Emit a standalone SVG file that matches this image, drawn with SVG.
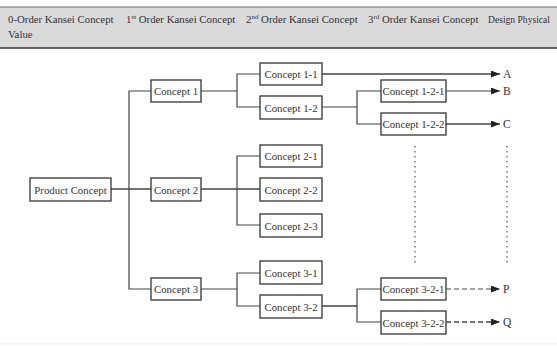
<svg xmlns="http://www.w3.org/2000/svg" width="557" height="347" viewBox="0 0 557 347">
<style>
.hdr{font-family:"Liberation Serif","DejaVu Serif",serif;font-size:10.8px;fill:#333}
.sup{font-size:7px}
.box{fill:#fff;stroke:#333;stroke-width:1.3}
.lbl{font-family:"Liberation Serif","DejaVu Serif",serif;font-size:10.8px;fill:#333;text-anchor:middle}
.end{font-family:"Liberation Serif","DejaVu Serif",serif;font-size:11.5px;fill:#333}
.ln{fill:none;stroke:#444;stroke-width:1.2}
.thk{stroke-width:1.7}
.dash{stroke-dasharray:5 3}
.dot{fill:none;stroke:#555;stroke-width:1.2;stroke-dasharray:1.5 3.5}
</style>
<defs>
<marker id="ah" markerUnits="userSpaceOnUse" markerWidth="9" markerHeight="7" refX="9" refY="3.5" orient="auto">
<path d="M0,0 L9,3.5 L0,7 z" fill="#222"/>
</marker>
</defs>
<rect x="0" y="0" width="557" height="347" fill="#fff"/>
<g id="header">
<rect x="0" y="7" width="557" height="41" fill="#dadada"/>
<line x1="0" y1="7" x2="557" y2="7" stroke="#666" stroke-width="1"/>
<line x1="0" y1="48" x2="557" y2="48" stroke="#333" stroke-width="1.5"/>
<text class="hdr" x="8" y="23">0-Order Kansei Concept</text>
<text class="hdr" x="126" y="23">1<tspan class="sup" dy="-4">st</tspan><tspan dy="4"> Order Kansei Concept</tspan></text>
<text class="hdr" x="246" y="23">2<tspan class="sup" dy="-4">nd</tspan><tspan dy="4"> Order Kansei Concept</tspan></text>
<text class="hdr" x="368" y="23">3<tspan class="sup" dy="-4">rd</tspan><tspan dy="4"> Order Kansei Concept</tspan></text>
<text class="hdr" x="488" y="23" textLength="62" lengthAdjust="spacingAndGlyphs">Design Physical</text>
<text class="hdr" x="8" y="38">Value</text>
</g>
<line x1="0" y1="344" x2="557" y2="344" stroke="#e8e8e8" stroke-width="1"/>
<g id="connectors">
<path class="ln thk" d="M111,189 H151"/>
<path class="ln" d="M151,91 H129 V289 H151"/>
<path class="ln" d="M201,91 H237"/>
<path class="ln" d="M260,74 H237 V107 H260"/>
<path class="ln thk" d="M201,189 H260"/>
<path class="ln" d="M260,156 H237 V225 H260"/>
<path class="ln" d="M201,289 H237"/>
<path class="ln" d="M260,273 H237 V306 H260"/>
<path class="ln" d="M322,107 H357"/>
<path class="ln" d="M381,91 H357 V124 H381"/>
<path class="ln thk" d="M322,306 H357"/>
<path class="ln" d="M381,289 H357 V322 H381"/>
<path class="ln thk" d="M322,74 H500" marker-end="url(#ah)"/>
<path class="ln" d="M446,91 H500" marker-end="url(#ah)"/>
<path class="ln thk" d="M446,124 H500" marker-end="url(#ah)"/>
<path class="ln dash" d="M446,289 H500" marker-end="url(#ah)"/>
<path class="ln thk dash" d="M446,322 H500" marker-end="url(#ah)"/>
<path class="dot" d="M415,146 V263"/>
<path class="dot" d="M507,146 V263"/>
</g>
<g id="product-concept"><rect class="box" x="30" y="178" width="81" height="23"/><text class="lbl" x="70.5" y="193.5">Product Concept</text></g>
<g id="concept-1"><rect class="box" x="151" y="80" width="50" height="22"/><text class="lbl" x="176" y="95">Concept 1</text></g>
<g id="concept-2"><rect class="box" x="151" y="178" width="50" height="23"/><text class="lbl" x="176" y="193.5">Concept 2</text></g>
<g id="concept-3"><rect class="box" x="151" y="278" width="50" height="22"/><text class="lbl" x="176" y="293">Concept 3</text></g>
<g id="concept-1-1"><rect class="box" x="260" y="63" width="62" height="22"/><text class="lbl" x="291" y="78">Concept 1-1</text></g>
<g id="concept-1-2"><rect class="box" x="260" y="96" width="62" height="23"/><text class="lbl" x="291" y="111.5">Concept 1-2</text></g>
<g id="concept-2-1"><rect class="box" x="260" y="145" width="62" height="22"/><text class="lbl" x="291" y="160">Concept 2-1</text></g>
<g id="concept-2-2"><rect class="box" x="260" y="178" width="62" height="23"/><text class="lbl" x="291" y="193.5">Concept 2-2</text></g>
<g id="concept-2-3"><rect class="box" x="260" y="214" width="62" height="23"/><text class="lbl" x="291" y="229.5">Concept 2-3</text></g>
<g id="concept-3-1"><rect class="box" x="260" y="261" width="62" height="23"/><text class="lbl" x="291" y="276.5">Concept 3-1</text></g>
<g id="concept-3-2"><rect class="box" x="260" y="295" width="62" height="23"/><text class="lbl" x="291" y="310.5">Concept 3-2</text></g>
<g id="concept-1-2-1"><rect class="box" x="381" y="80" width="65" height="22"/><text class="lbl" x="413.5" y="95">Concept 1-2-1</text></g>
<g id="concept-1-2-2"><rect class="box" x="381" y="113" width="65" height="22"/><text class="lbl" x="413.5" y="128">Concept 1-2-2</text></g>
<g id="concept-3-2-1"><rect class="box" x="381" y="278" width="65" height="22"/><text class="lbl" x="413.5" y="293">Concept 3-2-1</text></g>
<g id="concept-3-2-2"><rect class="box" x="381" y="311" width="65" height="23"/><text class="lbl" x="413.5" y="326.5">Concept 3-2-2</text></g>
<g id="outputs">
<text class="end" x="503" y="78">A</text>
<text class="end" x="503" y="95">B</text>
<text class="end" x="503" y="128">C</text>
<text class="end" x="503" y="293">P</text>
<text class="end" x="503" y="326">Q</text>
</g>
</svg>
